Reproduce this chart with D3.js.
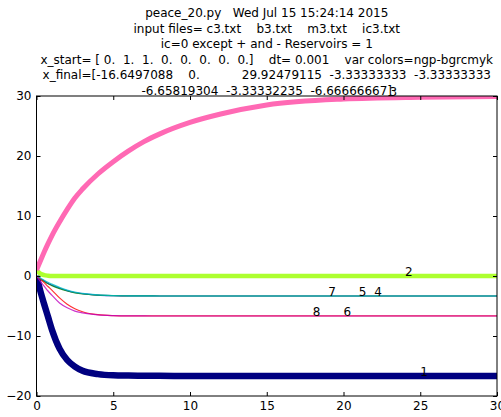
<!DOCTYPE html>
<html>
<head>
<meta charset="utf-8">
<script src="https://cdn.jsdelivr.net/npm/d3@7"></script>
<style>
  body { margin: 0; background: #fff; }
  text { font-family: "DejaVu Sans", sans-serif; fill: #000; }
</style>
</head>
<body>
<svg id="chart" width="501" height="417"></svg>
<script>
const titleLines = [
  'peace_20.py   Wed Jul 15 15:24:14 2015',
  'input files= c3.txt    b3.txt    m3.txt    ic3.txt',
  'ic=0 except + and - Reservoirs = 1',
  'x_start= [ 0.  1.  1.  0.  0.  0.  0.  0.]    dt= 0.001    var colors=ngp-bgrcmyk',
  'x_final=[-16.6497088    0.           29.92479115  -3.33333333  -3.33333333',
  '-6.65819304  -3.33332235  -6.66666667]',
];

const times = [0, 0.25, 0.5, 0.75, 1, 1.5, 2, 2.5, 3, 4, 5, 6, 7, 8, 10, 12, 15, 20, 25, 30];

const s1 = [0, -2.5, -4.7, -6.8, -8.9, -12.1, -14.0, -15.1, -15.8, -16.35, -16.55, -16.6, -16.63, -16.64, -16.65, -16.65, -16.65, -16.65, -16.65, -16.65];
const s2 = [1, 0.4, 0.15, 0.05, 0, 0, 0, 0, 0, 0, 0, 0, 0, 0, 0, 0, 0, 0, 0, 0];
const s3 = [1, 2.5, 4.0, 5.4, 6.7, 9.0, 11.1, 13.0, 14.5, 17.0, 19.05, 20.85, 22.4, 23.65, 25.6, 27.0, 28.5, 29.5, 29.8, 29.92];
const s4 = [0, -0.45, -0.8, -1.2, -1.5, -2.0, -2.45, -2.75, -2.95, -3.18, -3.27, -3.31, -3.32, -3.33, -3.333, -3.333, -3.333, -3.333, -3.333, -3.333];
const s5 = [0, -0.5, -0.9, -1.3, -1.6, -2.1, -2.5, -2.8, -3.0, -3.2, -3.28, -3.31, -3.32, -3.33, -3.333, -3.333, -3.333, -3.333, -3.333, -3.333];
const s6 = [0, -0.5, -1.1, -1.75, -2.35, -3.65, -4.7, -5.45, -5.95, -6.45, -6.6, -6.64, -6.65, -6.655, -6.658, -6.658, -6.658, -6.658, -6.658, -6.658];
const s7 = [0, -0.35, -0.7, -1.05, -1.35, -1.9, -2.35, -2.7, -2.9, -3.15, -3.26, -3.3, -3.32, -3.33, -3.333, -3.333, -3.333, -3.333, -3.333, -3.333];
const s8 = [0, -0.9, -1.7, -2.5, -3.2, -4.5, -5.3, -5.85, -6.15, -6.48, -6.6, -6.64, -6.66, -6.665, -6.667, -6.667, -6.667, -6.667, -6.667, -6.667];

const seriesValues = [s1, s2, s3, s4, s5, s6, s7, s8];
const seriesNames = ['1', '2', '3', '4', '5', '6', '7', '8'];
const seriesColors = ['#000080', '#adff2f', '#ff69b4', '#0000ff', '#008000', '#ff0000', '#00bfbf', '#bf00bf'];
const seriesWidths = [6.5, 4.5, 5, 1.2, 1.2, 1.2, 1.2, 1.2];
const labelTimes = [25, 24, 23, 22, 21, 20, 19, 18];

const xTicks = [0, 5, 10, 15, 20, 25, 30];
const yTicks = [-20, -10, 0, 10, 20, 30];

const margin = { top: 96, right: 4, bottom: 21, left: 36.5 };
const width = 501;
const height = 417;

const svg = d3.select('#chart');

const x = d3.scaleLinear()
  .domain([0, 30])
  .range([margin.left, width - margin.right]);

const y = d3.scaleLinear()
  .domain([-20, 30])
  .range([height - margin.bottom, margin.top]);

svg.append('defs')
  .append('clipPath')
  .attr('id', 'plot-clip')
  .append('rect')
  .attr('x', x(0))
  .attr('y', y(30))
  .attr('width', x(30) - x(0))
  .attr('height', y(-20) - y(30));

const line = d3.line()
  .x(d => x(d[0]))
  .y(d => y(d[1]))
  .curve(d3.curveMonotoneX);

const plot = svg.append('g').attr('clip-path', 'url(#plot-clip)');

seriesValues.forEach((vals, i) => {
  plot.append('path')
    .datum(times.map((t, j) => [t, vals[j]]))
    .attr('fill', 'none')
    .attr('stroke', seriesColors[i])
    .attr('stroke-width', seriesWidths[i])
    .attr('stroke-opacity', i > 2 ? 0.8 : 1)
    .attr('d', line);
});

// frame
svg.append('rect')
  .attr('x', x(0))
  .attr('y', y(30))
  .attr('width', x(30) - x(0))
  .attr('height', y(-20) - y(30))
  .attr('fill', 'none')
  .attr('stroke', '#000')
  .attr('stroke-width', 1);

const fmt = d => String(d).replace('-', '\u2212');

const xAxis = svg.append('g')
  .attr('transform', `translate(0,${y(-20)})`)
  .call(d3.axisBottom(x).tickValues(xTicks).tickSize(-4).tickPadding(5).tickFormat(fmt));

svg.append('g')
  .attr('transform', `translate(0,${y(30)})`)
  .call(d3.axisTop(x).tickValues(xTicks).tickSize(-4).tickFormat(''));

const yAxis = svg.append('g')
  .attr('transform', `translate(${x(0)},0)`)
  .call(d3.axisLeft(y).tickValues(yTicks).tickSize(-4).tickPadding(5).tickFormat(fmt));

svg.append('g')
  .attr('transform', `translate(${x(30)},0)`)
  .call(d3.axisRight(y).tickValues(yTicks).tickSize(-4).tickFormat(''));

svg.selectAll('.domain').remove();
svg.selectAll('.tick line').attr('stroke', '#000');
svg.selectAll('.tick text')
  .attr('font-family', '"DejaVu Sans", sans-serif')
  .attr('font-size', 12)
  .attr('fill', '#000');

// line number labels
seriesValues.forEach((vals, i) => {
  const t = labelTimes[i];
  svg.append('text')
    .attr('x', x(t))
    .attr('y', y(vals[times.indexOf(t)] !== undefined ? vals[times.indexOf(t)] : vals[vals.length - 1]))
    .attr('font-size', 12)
    .text(seriesNames[i]);
});

const titleX = (x(0) + x(30)) / 2;
svg.append('g')
  .selectAll('text')
  .data(titleLines)
  .join('text')
  .attr('x', titleX)
  .attr('y', (d, i) => 17 + i * 15.5)
  .attr('text-anchor', 'middle')
  .attr('font-size', 12)
  .style('white-space', 'pre')
  .text(d => d);
</script>
</body>
</html>
